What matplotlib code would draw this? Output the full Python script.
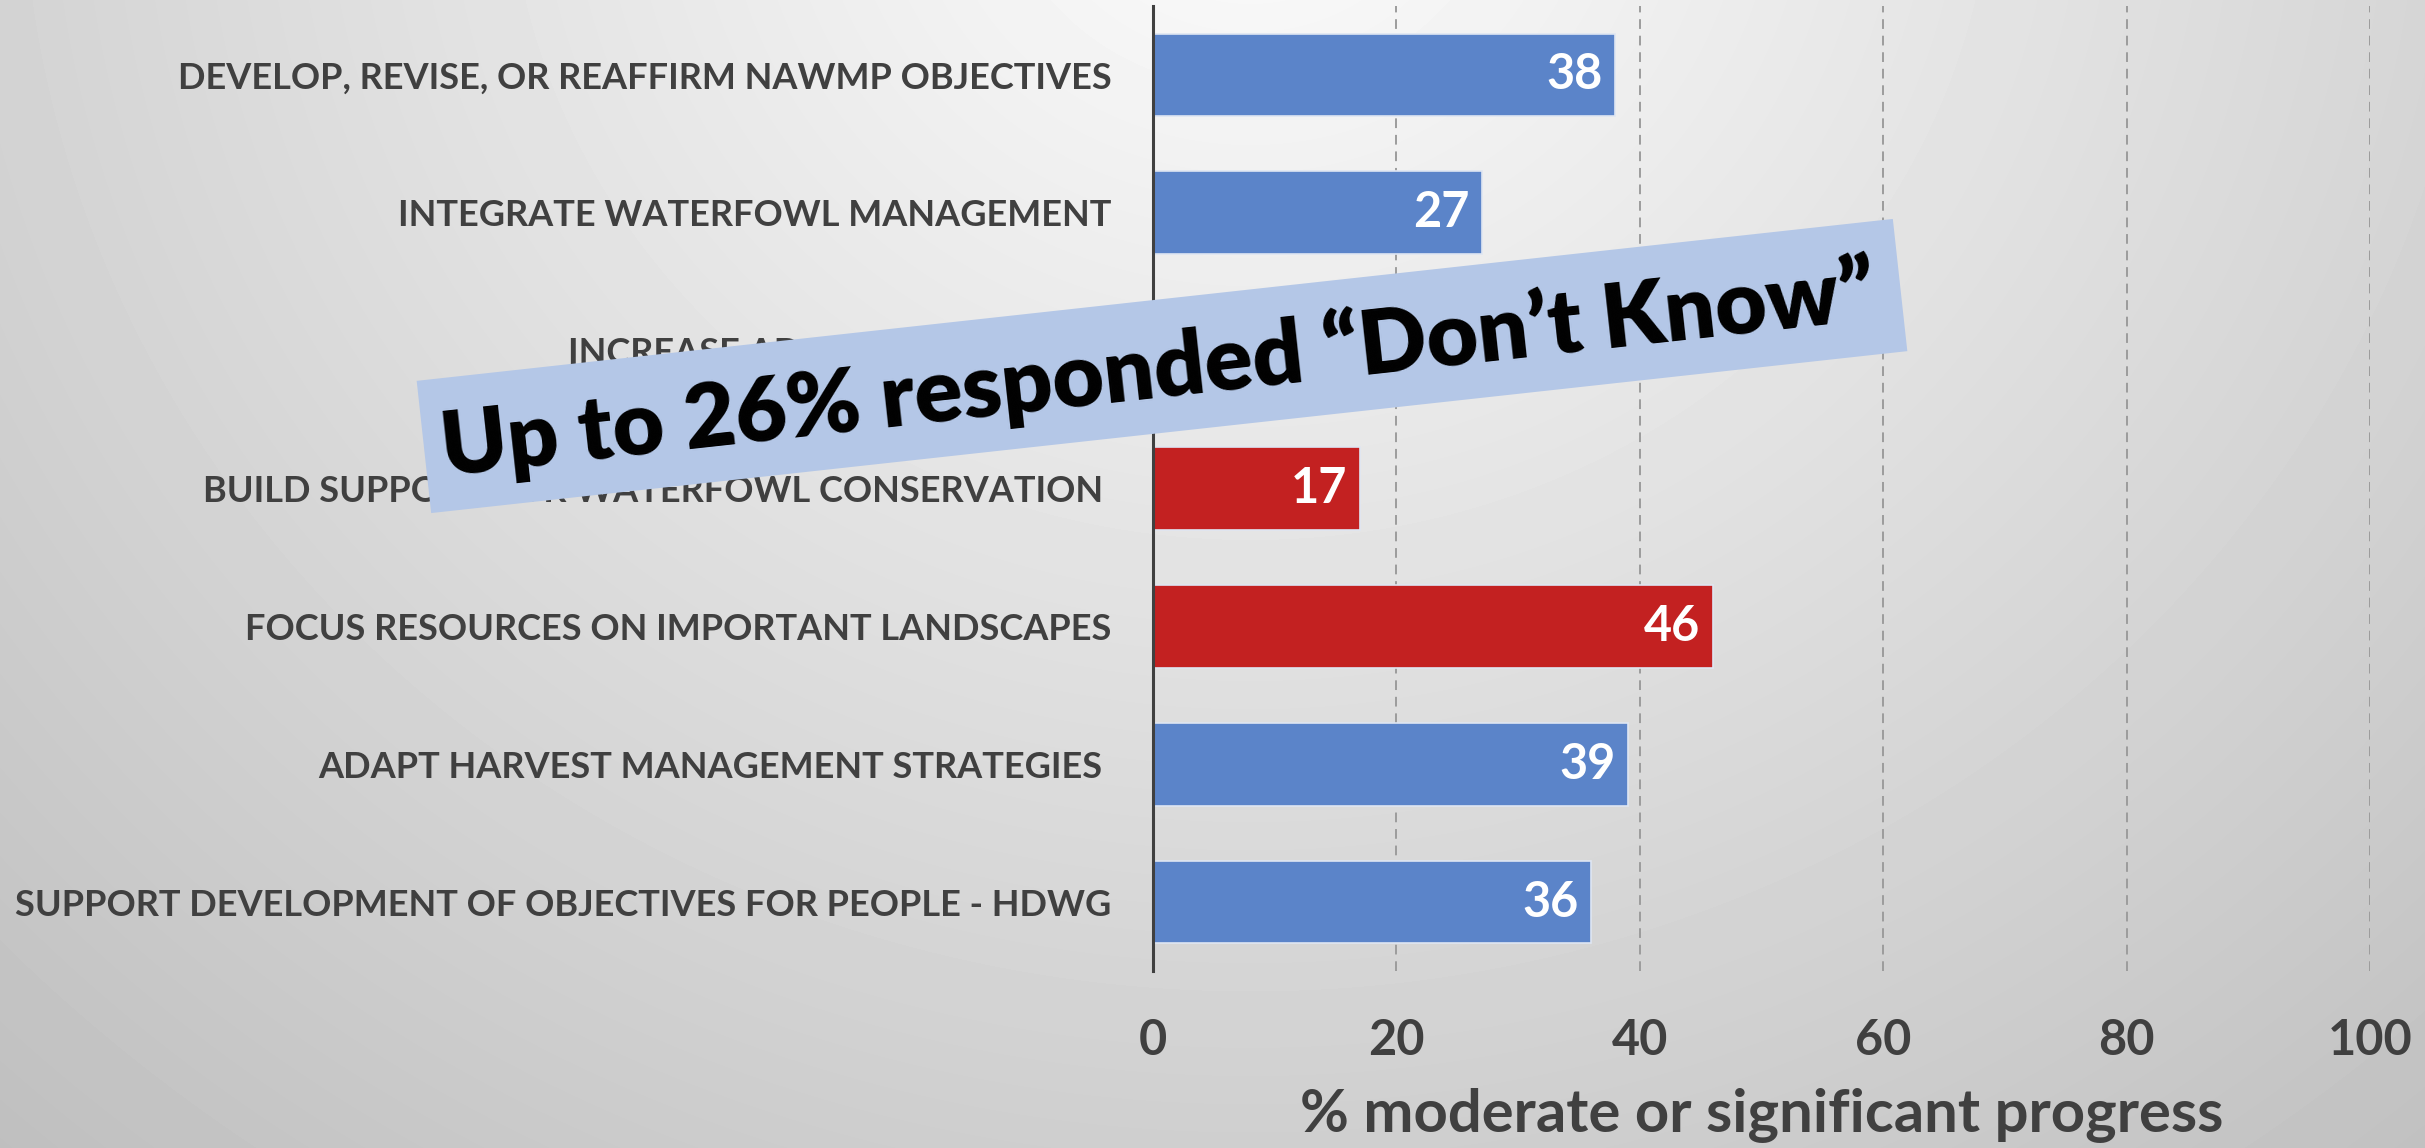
import numpy as np
import matplotlib.pyplot as plt
from matplotlib.patches import Rectangle

# data
categories = [
    "DEVELOP, REVISE, OR REAFFIRM NAWMP OBJECTIVES",
    "INTEGRATE WATERFOWL MANAGEMENT",
    "INCREASE ADAPTIVE CAPACITY",
    "BUILD SUPPORT FOR WATERFOWL CONSERVATION ",
    "FOCUS RESOURCES ON IMPORTANT LANDSCAPES",
    "ADAPT HARVEST MANAGEMENT STRATEGIES ",
    "SUPPORT DEVELOPMENT OF OBJECTIVES FOR PEOPLE - HDWG",
]
values = [38, 27, 30, 17, 46, 39, 36]   # 3rd bar hidden under the banner, value guessed
highlight = [False, False, False, True, True, False, False]
x_ticks = [0, 20, 40, 60, 80, 100]
banner_text = "Up to 26% responded \u201cDon\u2019t Know\u201d"

BLUE = "#5b84c9"
RED = "#c32121"
GREY = "#404040"
FONT = "Lato"

W, H = 2425, 1148
fig = plt.figure(figsize=(W / 100, H / 100), dpi=100)

# background: soft radial gradient like the slide theme
bg = fig.add_axes([0, 0, 1, 1], zorder=0)
yy, xx = np.mgrid[0:H, 0:W]
d = np.hypot((xx - 1250) / 1400, (yy + 150) / 1300)
shade = np.clip(0.99 - 0.18 * d, 0, 1)
bg.imshow(shade, cmap="gray", vmin=0, vmax=1, extent=[0, 1, 0, 1], aspect="auto")
bg.axis("off")

ax = fig.add_axes([0.4755, 0.1542, 0.5018, 0.8406], zorder=1)
ax.patch.set_alpha(0)

y = np.arange(len(categories))
colors = [RED if h else BLUE for h in highlight]
ax.barh(y, values, height=0.6, color=colors, edgecolor="#dfe6f2", linewidth=1.2, zorder=2)

for yi, v in zip(y, values):
    ax.annotate(str(v), (v, yi), xytext=(-9, 0), textcoords="offset points",
                ha="right", va="center", color="white", fontsize=35,
                fontweight="bold", family=FONT, zorder=3)

ax.set_xlim(0, 100)
ax.set_ylim(len(categories) - 0.5, -0.5)
ax.set_xticks(x_ticks)
ax.set_yticks(y)
ax.set_yticklabels(categories, fontsize=26, fontweight="bold", color=GREY, family=FONT)
for lab in ax.get_xticklabels():
    lab.set_fontsize(35)
    lab.set_fontweight("bold")
    lab.set_color(GREY)
    lab.set_family(FONT)
ax.tick_params(axis="x", length=0, pad=34)
ax.tick_params(axis="y", length=0, pad=30)

ax.set_xlabel("% moderate or significant progress", fontsize=43, fontweight="bold",
              color=GREY, family=FONT, labelpad=18)

for s in ["top", "right", "bottom"]:
    ax.spines[s].set_visible(False)
ax.spines["left"].set_color(GREY)
ax.spines["left"].set_linewidth(2.2)
ax.spines["left"].set_zorder(4)

ax.grid(axis="x", color="#9c9c9c", linestyle=(0, (5, 3.5)), linewidth=1.4, zorder=1)
ax.set_axisbelow(True)

# banner overlay, drawn in pixel coordinates
ov = fig.add_axes([0, 0, 1, 1], zorder=5)
ov.set_xlim(0, W)
ov.set_ylim(0, H)
ov.axis("off")
ov.patch.set_alpha(0)
cx, cy, bw, bh, ang = 1162, H - 366, 1485, 133, 6.26
ov.add_patch(Rectangle((cx - bw / 2, cy - bh / 2), bw, bh, angle=ang,
                       rotation_point="center", facecolor="#b4c7e7", edgecolor="none"))
ov.text(1158, cy - 4, banner_text, rotation=ang, rotation_mode="anchor",
        ha="center", va="center", fontsize=64, fontweight="heavy", color="black", family=FONT)

fig.savefig("out.png", dpi=100)
